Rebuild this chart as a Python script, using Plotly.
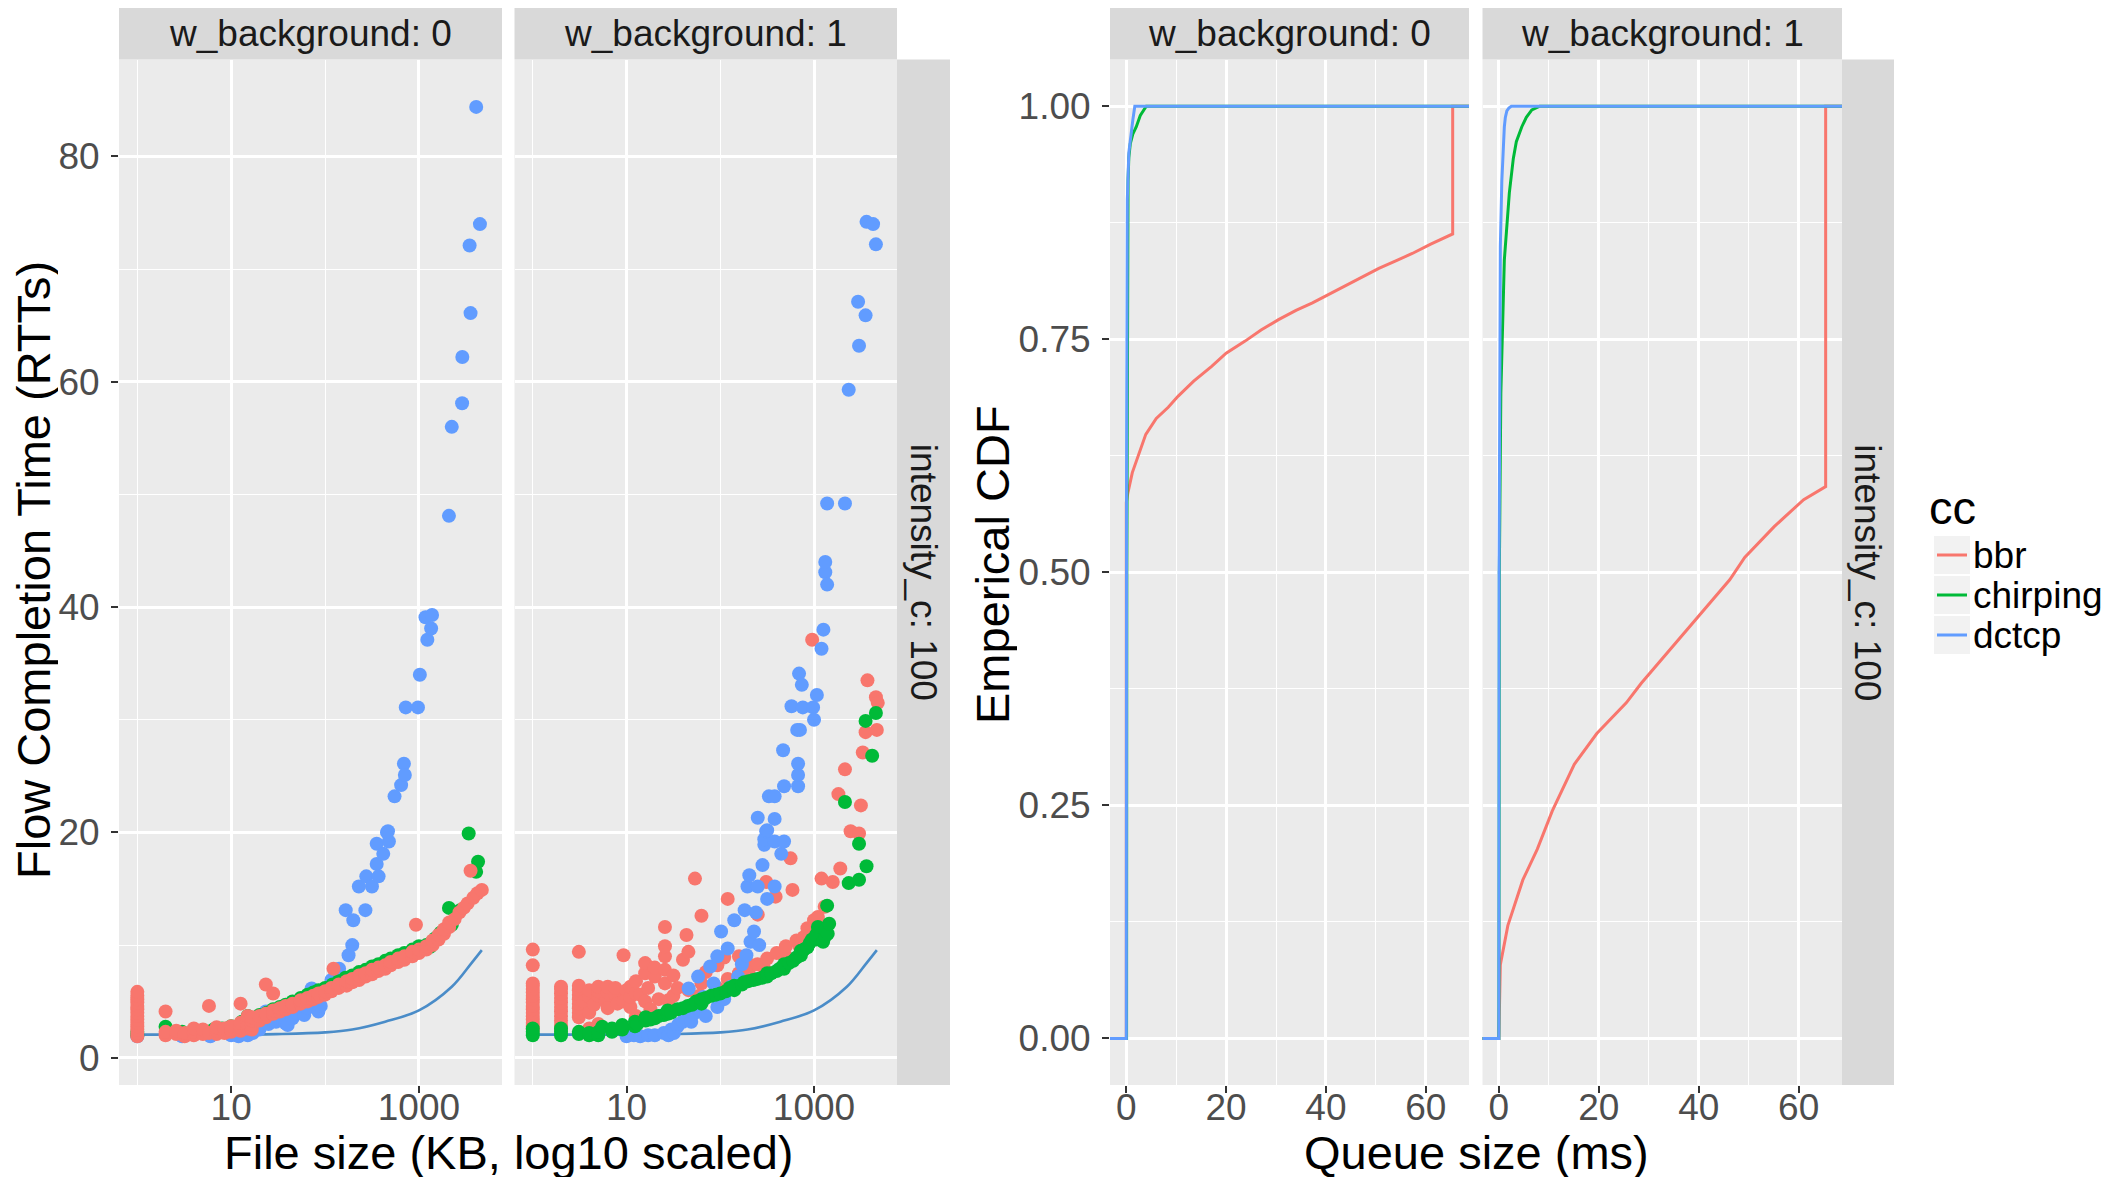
import plotly.graph_objects as go

# reference canvas and page offset (browser body margin is 8px)
W, H = 2111, 1178
OFF = 8
FW, FH = W - OFF, H - OFF
FONT = "Liberation Sans, Arial, sans-serif"

cc_names = ["bbr", "chirping", "dctcp"]
cc_colors = {"bbr": "#F8766D", "chirping": "#00BA38", "dctcp": "#619CFF"}
facet_labels = ["w_background: 0", "w_background: 1"]
row_label = "intensity_c: 100"

# ---------------- Flow completion time scatter (file size KB, FCT in RTTs) -------------
bg0_bbr = [(1, 1.9), (1, 2.2), (1, 2.5), (1, 2.8), (1, 3.1), (1, 3.4), (1, 3.7), (1, 4.0), (1, 4.3),
           (1, 4.6), (1, 4.9), (1, 5.2), (1, 5.5), (1, 5.85),
           (2, 2.0), (2, 2.3), (2, 4.1), (2.6, 2.1), (2.6, 2.4), (3.2, 1.9), (3.2, 2.2), (4, 2.0), (4, 2.3),
           (4, 2.6), (5, 2.1), (5, 2.5), (5.8, 2.2), (5.8, 4.6), (7, 2.1), (7, 2.4), (7, 2.7), (8.5, 2.2),
           (8.5, 2.6), (10, 2.3), (10, 2.5), (10, 2.8), (12.6, 2.4), (12.6, 2.7), (12.6, 3.1), (12.6, 4.8),
           (15, 2.6), (15, 3.0), (15, 3.4), (15, 3.7), (16.6, 2.5), (16.6, 2.9), (16.6, 3.3), (16.6, 3.6),
           (20, 3.3), (20, 3.7), (23.4, 3.6), (23.4, 3.9), (23.4, 6.5), (28, 3.9), (28, 4.2), (28, 5.7),
           (33, 4.1), (33, 4.4), (38, 4.3), (38, 4.6), (45, 4.5), (45, 4.8), (55, 4.8), (55, 5.1),
           (65, 5.0), (65, 5.3), (75, 5.2), (75, 5.5), (85, 5.4), (85, 5.7), (100, 5.6), (100, 5.9),
           (117, 5.9), (117, 6.2), (123, 7.9), (140, 6.2), (140, 6.5), (170, 6.4), (170, 6.8), (195, 6.7),
           (195, 7.0), (230, 6.9), (230, 7.3), (270, 7.2), (270, 7.5), (316, 7.4), (316, 7.8), (370, 7.7),
           (370, 8.0), (437, 7.9), (437, 8.2), (500, 8.2), (500, 8.5), (600, 8.5), (600, 8.8), (700, 8.7),
           (700, 9.0), (850, 9.0), (850, 9.4), (930, 11.8), (1000, 9.3), (1000, 9.6), (1200, 9.6),
           (1200, 9.9), (1400, 10.0), (1400, 10.4), (1620, 10.5), (1620, 10.9), (1850, 11.0), (1850, 11.4),
           (2100, 11.6), (2100, 12.0), (2400, 12.3), (2700, 12.9), (3000, 13.3), (3300, 13.7), (3550, 16.6),
           (3800, 14.2), (4200, 14.6), (4680, 14.9)]

bg0_chirping = [(1, 2.0), (1, 2.3), (2, 2.75), (3, 2.3), (5, 2.4), (6.5, 2.5), (8, 2.6), (10, 2.8),
                (12.6, 3.0), (13, 3.2), (15, 3.7), (16, 3.5), (20, 3.8), (24, 4.0), (28, 4.3), (33, 4.5),
                (38, 4.7), (45, 5.0), (55, 5.3), (65, 5.6), (75, 5.8), (85, 6.0), (100, 6.2), (120, 6.5),
                (140, 6.8), (165, 7.1), (195, 7.3), (230, 7.6), (270, 7.8), (316, 8.1), (370, 8.3),
                (437, 8.6), (500, 8.8), (600, 9.1), (700, 9.3), (850, 9.6), (1000, 9.9), (1200, 10.0),
                (1320, 9.85), (1380, 10.3), (1500, 10.6), (1700, 11.1), (2089, 13.3), (2239, 11.8),
                (2750, 13.1), (3390, 19.9), (4070, 16.5), (4266, 17.4)]

bg0_dctcp = [(1, 1.9), (3, 1.9), (6, 1.9), (10, 2.0), (12, 1.9), (14, 2.6), (15, 2.0), (17, 2.2),
             (18, 2.9), (20, 2.5), (22, 3.3), (23.4, 4.1), (25, 3.0), (28, 3.3), (30, 3.2), (33, 3.6),
             (38, 3.05), (40, 2.9), (45, 3.5), (50, 4.0), (55, 5.1), (60, 3.8), (65, 4.4), (72, 6.15),
             (80, 5.0), (85, 4.1), (90, 4.6), (100, 5.8), (117, 6.9), (141, 7.9), (166, 13.1), (178, 9.1),
             (195, 10.0), (200, 12.2), (229, 15.2), (269, 13.1), (275, 16.1), (316, 15.2), (355, 17.2),
             (355, 19.0), (372, 16.1), (417, 18.1), (457, 20.0), (479, 19.2), (468, 20.1), (550, 23.2),
             (646, 24.2), (692, 26.1), (708, 25.1), (724, 31.1), (977, 31.1), (1023, 34.0), (1175, 39.1),
             (1230, 37.1), (1349, 38.1), (1380, 39.3), (2089, 48.1), (2239, 56.0), (2884, 58.1),
             (2900, 62.2), (3467, 72.1), (3548, 66.1), (4074, 84.4), (4467, 74.0)]

bg1_bbr = [(1, 2.5), (1, 2.8), (1, 3.1), (1, 3.4), (1, 3.7), (1, 4.0), (1, 4.3), (1, 4.6), (1, 4.9),
           (1, 5.2), (1, 5.5), (1, 5.8), (1, 6.1), (1, 6.4), (1, 6.6), (1, 8.2), (1, 9.6),
           (2, 2.5), (2, 2.9), (2, 3.3), (2, 3.7), (2, 4.1), (2, 4.5), (2, 4.9), (2, 5.3), (2, 5.7),
           (2, 6.1), (2, 6.3),
           (3.1, 3.6), (3.1, 4.0), (3.1, 4.4), (3.1, 4.8), (3.1, 5.2), (3.1, 5.6), (3.1, 6.0), (3.1, 6.4),
           (3.1, 9.4), (3.5, 5.0), (4, 2.6), (4, 4.0), (4, 5.4), (4, 6.0), (4.5, 4.7), (5, 3.0), (5, 5.5),
           (5, 5.9), (5, 6.3), (6, 5.0), (6.3, 4.4), (6.3, 5.8), (6.3, 6.3), (7.6, 5.6), (7.6, 6.2),
           (8, 4.8), (9.3, 5.0), (9.3, 9.1), (10, 6.0), (11, 4.5), (11, 5.4), (11, 6.3), (12.6, 3.7),
           (12.6, 5.7), (12.6, 6.8), (14, 5.6), (15.8, 5.0), (15.8, 7.5), (15.8, 8.4), (17, 6.2),
           (18, 4.3), (20, 7.2), (20, 8.0), (22, 5.2), (25.7, 6.6), (25.7, 7.8), (25.7, 9.0), (25.7, 9.9),
           (25.7, 11.6), (28, 5.1), (31.6, 5.5), (31.6, 7.3), (35, 6.2), (40, 8.7), (43.6, 10.9),
           (45.7, 6.0), (45.7, 9.4), (50, 4.2), (53.7, 15.9), (60, 5.5), (63, 6.6), (63, 12.6), (70, 7.6),
           (93, 6.2), (93, 8.2), (110, 8.9), (120, 7.0), (120, 14.1), (150, 6.8), (158, 7.5), (158, 9.0),
           (200, 7.6), (214, 8.2), (250, 8.3), (251, 12.7), (300, 7.8), (309, 15.6), (316, 8.8),
           (389, 14.3), (400, 9.3), (500, 8.7), (501, 9.0), (501, 9.9), (562, 17.7), (589, 14.9),
           (650, 10.4), (700, 9.9), (724, 10.2), (776, 10.7), (850, 11.5), (900, 10.9), (955, 37.1),
           (1000, 12.2), (1100, 12.5), (1202, 15.9), (1300, 13.4), (1585, 15.6), (1820, 23.4),
           (1905, 16.8), (2138, 25.6), (2455, 20.1), (3020, 19.9), (3162, 22.4), (3311, 27.1),
           (3548, 28.9), (3715, 33.5), (4571, 32.0), (4677, 29.1), (4786, 31.5)]

bg1_chirping = [(1, 2.0), (1, 2.3), (1, 2.6), (2, 2.0), (2, 2.3), (2, 2.6), (3.1, 2.1), (3.1, 2.3),
                (4, 2.0), (4, 2.2), (5, 2.0), (5, 2.3), (5.5, 2.75), (7, 2.3), (7, 2.6), (9, 2.5), (9, 2.9),
                (12.3, 2.8), (12.3, 3.2), (13, 3.0), (16, 3.3), (16, 3.6), (18, 3.4), (20, 3.5), (22, 3.7),
                (25, 3.8), (27.5, 3.9), (27.5, 4.2), (30, 4.0), (35, 4.3), (40, 4.4), (45, 4.6), (50, 4.7),
                (55, 5.0), (63, 4.8), (63, 5.2), (70, 5.3), (80, 5.5), (90, 5.6), (100, 5.7), (115, 5.9),
                (125, 6.2), (141, 6.0), (141, 6.4), (170, 6.5), (180, 6.7), (200, 6.8), (225, 6.9),
                (250, 7.0), (280, 7.1), (316, 7.2), (316, 7.5), (350, 7.5), (400, 7.7), (430, 7.9),
                (479, 7.9), (479, 8.3), (540, 8.4), (600, 8.6), (650, 8.9), (724, 9.1), (724, 9.5),
                (780, 9.6), (850, 9.8), (900, 10.2), (950, 10.5), (1050, 10.5), (1050, 10.9), (1100, 11.6),
                (1250, 10.3), (1318, 10.8), (1318, 11.3), (1380, 13.5), (1400, 11.0), (1450, 11.9),
                (2138, 22.7), (2344, 15.5), (3020, 15.8), (3020, 19.0), (3548, 29.9), (3631, 17.0),
                (4169, 26.8), (4571, 30.6)]

bg1_dctcp = [(10, 1.9), (12, 2.0), (14, 1.9), (17, 2.0), (20, 2.0), (25, 2.2), (28, 2.0), (30, 2.5),
             (32, 2.2), (35, 2.8), (36, 3.0), (40, 3.2), (42, 3.6), (46, 6.15), (49, 3.2), (52, 3.9),
             (58, 7.2), (60, 4.2), (66, 5.4), (70, 3.7), (78, 8.1), (85, 6.6), (93, 4.5), (93, 9.0),
             (102, 11.2), (110, 5.2), (120, 9.7), (130, 6.3), (141, 12.2), (155, 7.2), (170, 8.3),
             (182, 13.1), (190, 9.1), (195, 15.2), (204, 16.2), (210, 10.3), (229, 11.2), (240, 12.9),
             (251, 15.2), (251, 21.3), (260, 10.0), (282, 17.1), (295, 18.9), (295, 19.4), (309, 20.1),
             (316, 14.1), (316, 20.2), (330, 23.2), (380, 15.2), (380, 19.2), (380, 21.2), (380, 23.2),
             (447, 18.1), (468, 27.3), (479, 19.2), (479, 24.1), (575, 31.2), (661, 29.1), (676, 24.1),
             (676, 25.1), (676, 26.1), (692, 34.1), (708, 29.1), (741, 33.1), (759, 31.1), (977, 31.1),
             (1000, 30.0), (1072, 32.2), (1202, 36.3), (1259, 38.0), (1318, 43.1), (1318, 44.0),
             (1380, 42.0), (1380, 49.2), (2138, 49.2), (2344, 59.3), (2951, 67.1), (3020, 63.2),
             (3548, 65.9), (3631, 74.2), (4266, 74.0), (4571, 72.2)]

# reference (ideal) FCT curve
ideal_size = [1, 10, 30, 100, 195, 437, 1000, 2239, 3631, 4677]
ideal_fct = [2.05, 2.05, 2.1, 2.25, 2.5, 3.2, 4.2, 6.3, 8.4, 9.55]

# ---------------- ECDF of queue size (ms) ----------------
q_pad_lo, q_pad_hi = -10, 80
ecdf0_bbr_q = [q_pad_lo, 0, 0, 0.3, 1.2, 2.4, 3.9, 6, 8.4, 10.4, 13.5, 17.1, 20, 23.8, 27, 30.5, 34,
               37.3, 40.5, 43.9, 47, 50.6, 54, 57.3, 61, 65.4, 65.4, q_pad_hi]
ecdf0_bbr_f = [0, 0, 0.575, 0.585, 0.607, 0.625, 0.648, 0.665, 0.677, 0.689, 0.705, 0.721, 0.735, 0.748,
               0.760, 0.771, 0.781, 0.789, 0.798, 0.807, 0.816, 0.826, 0.834, 0.842, 0.852, 0.863, 1.0, 1.0]
ecdf0_chirping_q = [q_pad_lo, 0.05, 0.1, 0.2, 0.35, 0.5, 0.8, 1.3, 2.0, 2.8, 4.0, q_pad_hi]
ecdf0_chirping_f = [0, 0, 0.5, 0.85, 0.92, 0.945, 0.96, 0.97, 0.978, 0.99, 1.0, 1.0]
ecdf0_dctcp_q = [q_pad_lo, 0, 0.05, 0.2, 0.5, 0.9, 1.3, 1.7, q_pad_hi]
ecdf0_dctcp_f = [0, 0, 0.6, 0.9, 0.95, 0.97, 0.985, 1.0, 1.0]

ecdf1_bbr_q = [q_pad_lo, 0, 0.3, 1.8, 4.8, 7.7, 10.7, 15.1, 19.6, 25.5, 28.5, 34.4, 40.3, 46.2, 49.2,
               55.1, 61, 65.4, 65.4, q_pad_hi]
ecdf1_bbr_f = [0, 0, 0.079, 0.121, 0.170, 0.203, 0.244, 0.294, 0.327, 0.360, 0.381, 0.418, 0.455, 0.492,
               0.516, 0.549, 0.578, 0.592, 1.0, 1.0]
ecdf1_chirping_q = [q_pad_lo, 0, 0.05, 0.1, 0.4, 0.7, 1.1, 1.6, 2.1, 2.9, 3.5, 4.6, 5.5, 6.6, 8.2, q_pad_hi]
ecdf1_chirping_f = [0, 0, 0.2, 0.5, 0.692, 0.764, 0.835, 0.871, 0.907, 0.944, 0.962, 0.978, 0.988, 0.996,
                    1.0, 1.0]
ecdf1_dctcp_q = [q_pad_lo, 0, 0.05, 0.3, 0.6, 0.9, 1.1, 1.3, 1.6, 2.0, 2.5, q_pad_hi]
ecdf1_dctcp_f = [0, 0, 0.5, 0.85, 0.92, 0.96, 0.978, 0.988, 0.995, 0.998, 1.0, 1.0]

fct_ticks = [0, 20, 40, 60, 80]
size_ticks = [10, 1000]
size_minor = [1, 100, 10000]
queue_ticks = [0, 20, 40, 60]
cdf_ticks = [0.0, 0.25, 0.5, 0.75, 1.0]

# ---------------- figure ----------------
fig = go.Figure()


def px_x(v):
    return (v - OFF) / FW


def px_y(v):
    return 1 - (v - OFF) / FH


panel_top, panel_bot = 59.6, 1085
strip_top = 8.0
panels_x = [(119, 502), (514.5, 897), (1110, 1469), (1482.5, 1842)]
ydom = [px_y(panel_bot), px_y(panel_top)]

# left scatter
scatter_sets = [
    ("x", "y", [("dctcp", bg0_dctcp), ("chirping", bg0_chirping), ("bbr", bg0_bbr)]),
    ("x2", "y2", [("bbr", bg1_bbr), ("dctcp", bg1_dctcp), ("chirping", bg1_chirping)]),
]
for xa, ya, series in scatter_sets:
    fig.add_trace(go.Scatter(x=ideal_size, y=ideal_fct, mode="lines",
                             line=dict(color="#4A8CC8", width=2.6, shape="spline"),
                             xaxis=xa, yaxis=ya, showlegend=False, hoverinfo="skip"))
    for name, pts in series:
        xs = [p[0] for p in pts]
        ys = [p[1] for p in pts]
        fig.add_trace(go.Scatter(x=xs, y=ys, mode="markers", name=name,
                                 marker=dict(color=cc_colors[name], size=14, line=dict(width=0)),
                                 xaxis=xa, yaxis=ya, showlegend=False))

# right ECDF
ecdf_sets = [
    ("x3", "y3", [("bbr", ecdf0_bbr_q, ecdf0_bbr_f), ("chirping", ecdf0_chirping_q, ecdf0_chirping_f),
                  ("dctcp", ecdf0_dctcp_q, ecdf0_dctcp_f)]),
    ("x4", "y4", [("bbr", ecdf1_bbr_q, ecdf1_bbr_f), ("chirping", ecdf1_chirping_q, ecdf1_chirping_f),
                  ("dctcp", ecdf1_dctcp_q, ecdf1_dctcp_f)]),
]
for xa, ya, series in ecdf_sets:
    for name, qs, fs in series:
        fig.add_trace(go.Scatter(x=qs, y=fs, mode="lines", name=name,
                                 line=dict(color=cc_colors[name], width=3),
                                 xaxis=xa, yaxis=ya, showlegend=False))

tickfont = dict(family=FONT, size=37, color="#4D4D4D")
common = dict(showgrid=True, gridcolor="white", gridwidth=2.6, zeroline=False, showline=False,
              ticks="outside", ticklen=7, tickwidth=1.6, tickcolor="#333333", tickfont=tickfont)

layout = dict(
    width=FW, height=FH, autosize=False,
    margin=dict(l=0, r=0, t=0, b=0),
    paper_bgcolor="white", plot_bgcolor="#EBEBEB",
    font=dict(family=FONT, color="black"),
    showlegend=False,
)

log_range = [-0.195, 3.885]
for i, key in enumerate(["xaxis", "xaxis2"]):
    layout[key] = dict(common, type="log", range=log_range,
                       domain=[px_x(panels_x[i][0]), px_x(panels_x[i][1])],
                       tickvals=size_ticks, ticktext=[str(v) for v in size_ticks], ticklabelstandoff=-17,
                       minor=dict(tickvals=size_minor, showgrid=True, gridcolor="white", gridwidth=1.3,
                                  ticks=""),
                       anchor="y" if i == 0 else "y2")
for i, key in enumerate(["xaxis3", "xaxis4"]):
    layout[key] = dict(common, range=[-3.27, 68.67],
                       domain=[px_x(panels_x[i + 2][0]), px_x(panels_x[i + 2][1])],
                       tickvals=queue_ticks, ticktext=[str(v) for v in queue_ticks], ticklabelstandoff=-17,
                       minor=dict(tickvals=[10, 30, 50], showgrid=True, gridcolor="white", gridwidth=1.3,
                                  ticks=""),
                       anchor="y3" if i == 0 else "y4")

layout["yaxis"] = dict(common, range=[-2.42, 88.6], domain=ydom, anchor="x",
                       tickvals=fct_ticks, ticktext=[str(v) for v in fct_ticks], ticklabelstandoff=4,
                       minor=dict(tickvals=[10, 30, 50, 70], showgrid=True, gridcolor="white",
                                  gridwidth=1.3, ticks=""))
layout["yaxis2"] = dict(common, range=[-2.42, 88.6], domain=ydom, anchor="x2", matches="y",
                        tickvals=fct_ticks, showticklabels=False, ticks="",
                        minor=dict(tickvals=[10, 30, 50, 70], showgrid=True, gridcolor="white",
                                   gridwidth=1.3, ticks=""))
layout["yaxis3"] = dict(common, range=[-0.05, 1.05], domain=ydom, anchor="x3",
                        tickvals=cdf_ticks, ticktext=["%.2f" % v for v in cdf_ticks], ticklabelstandoff=4,
                        minor=dict(tickvals=[0.125, 0.375, 0.625, 0.875], showgrid=True, gridcolor="white",
                                   gridwidth=1.3, ticks=""))
layout["yaxis4"] = dict(common, range=[-0.05, 1.05], domain=ydom, anchor="x4", matches="y3",
                        tickvals=cdf_ticks, showticklabels=False, ticks="",
                        minor=dict(tickvals=[0.125, 0.375, 0.625, 0.875], showgrid=True, gridcolor="white",
                                   gridwidth=1.3, ticks=""))

shapes = []
annotations = []
strip_font = dict(family=FONT, size=37, color="#1A1A1A")
for i, (x0, x1) in enumerate(panels_x):
    shapes.append(dict(type="rect", xref="paper", yref="paper", x0=px_x(x0), x1=px_x(x1),
                       y0=px_y(panel_top), y1=px_y(strip_top), fillcolor="#D9D9D9", line=dict(width=0),
                       layer="below"))
    annotations.append(dict(xref="paper", yref="paper", x=px_x((x0 + x1) / 2),
                            y=px_y((6.5 + panel_top) / 2), text=facet_labels[i % 2], showarrow=False,
                            font=strip_font, xanchor="center", yanchor="middle"))
for (sx0, sx1) in [(897, 950), (1842, 1894)]:
    shapes.append(dict(type="rect", xref="paper", yref="paper", x0=px_x(sx0), x1=px_x(sx1),
                       y0=px_y(panel_bot), y1=px_y(panel_top), fillcolor="#D9D9D9", line=dict(width=0),
                       layer="below"))
    annotations.append(dict(xref="paper", yref="paper", x=px_x((sx0 + sx1) / 2),
                            y=px_y((panel_top + panel_bot) / 2), text=row_label, textangle=90,
                            showarrow=False, font=strip_font, xanchor="center", yanchor="middle"))

title_font = dict(family=FONT, size=47, color="black")
annotations += [
    dict(xref="paper", yref="paper", x=px_x(33), y=px_y(570), text="Flow Completion Time (RTTs)",
         textangle=-90, showarrow=False, font=title_font, xanchor="center", yanchor="middle", height=50),
    dict(xref="paper", yref="paper", x=px_x(992), y=px_y(565), text="Emperical CDF",
         textangle=-90, showarrow=False, font=title_font, xanchor="center", yanchor="middle", height=50),
    dict(xref="paper", yref="paper", x=px_x(508), y=px_y(1152), text="File size (KB, log10 scaled)",
         showarrow=False, font=title_font, xanchor="center", yanchor="middle", height=50),
    dict(xref="paper", yref="paper", x=px_x(1476), y=px_y(1152), text="Queue size (ms)",
         showarrow=False, font=title_font, xanchor="center", yanchor="middle", height=50),
]

# legend "cc" (drawn as a ggplot-style key box)
legend_rows = [555, 595, 635]
annotations.append(dict(xref="paper", yref="paper", x=px_x(1927), y=px_y(507), text="cc",
                        showarrow=False, font=title_font, xanchor="left", yanchor="middle"))
for name, yc in zip(cc_names, legend_rows):
    shapes.append(dict(type="rect", xref="paper", yref="paper", x0=px_x(1934), x1=px_x(1970),
                       y0=px_y(yc + 19), y1=px_y(yc - 19), fillcolor="#F2F2F2", line=dict(width=0)))
    shapes.append(dict(type="line", xref="paper", yref="paper", x0=px_x(1937), x1=px_x(1967),
                       y0=px_y(yc), y1=px_y(yc), line=dict(color=cc_colors[name], width=3)))
    annotations.append(dict(xref="paper", yref="paper", x=px_x(1971), y=px_y(yc), text=name,
                            showarrow=False, font=dict(family=FONT, size=37, color="black"),
                            xanchor="left", yanchor="middle"))

layout["shapes"] = shapes
layout["annotations"] = annotations

fig.update_layout(**layout)
fig.write_html("out.html")
